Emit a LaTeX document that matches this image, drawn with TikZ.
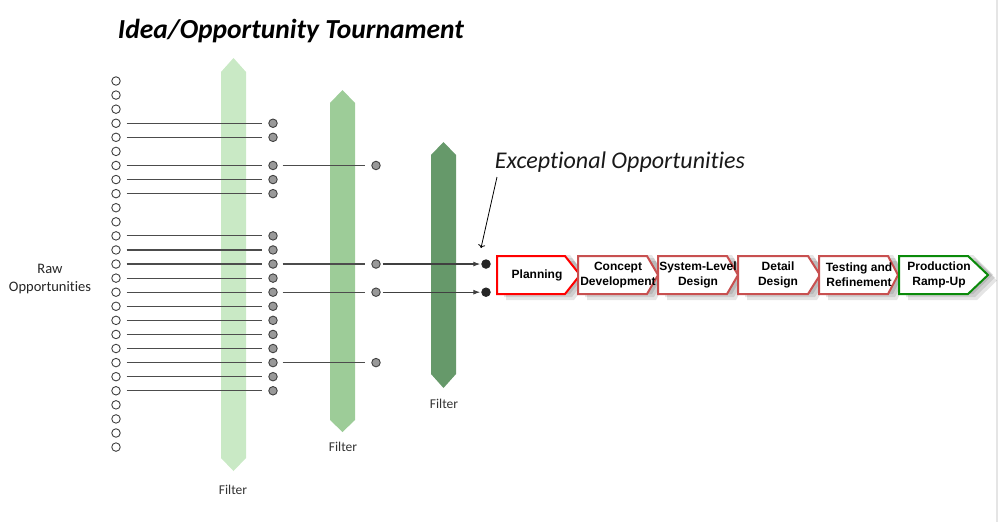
\documentclass[tikz,border=0pt]{standalone}
\usepackage{fontspec}
\setmainfont{Carlito}[Ligatures=CommonOff]
\newfontfamily\arialfont{Liberation Sans}
\usetikzlibrary{arrows.meta}

\definecolor{filterA}{HTML}{C9E9C5}
\definecolor{filterB}{HTML}{9DCC98}
\definecolor{filterC}{HTML}{66996A}
\definecolor{stagered}{HTML}{C85050}
\definecolor{stagegreen}{HTML}{0A8A0A}

\begin{document}
\begin{tikzpicture}[x=1pt, y=-1pt,
    rawdot/.style={circle, draw=black!75, fill=white, line width=0.9, minimum size=8.5pt, inner sep=0pt},
    keptdot/.style={rawdot, fill=black!40},
    bestdot/.style={rawdot, draw=black!85, fill=black!85},
    link/.style={line width=1.1, black!70, shorten <=6pt, shorten >=6pt},
    filterlabel/.style={font=\fontsize{13.5}{15}\selectfont, text=black!80},
    stagetext/.style={font=\arialfont\bfseries\fontsize{12}{15}\selectfont, align=center}]

  \useasboundingbox (0,0) rectangle (998,522);
  \fill[black!10] (995.5,0) rectangle (998,522);

  % filters
  \fill[filterA] (221,72) -- (233.5,58) -- (246,72) -- (246,458) -- (233.5,471) -- (221,458) -- cycle;
  \fill[filterB] (330,103) -- (342.5,90) -- (355,103) -- (355,420) -- (342.5,432) -- (330,420) -- cycle;
  \fill[filterC] (431,155) -- (443.5,142) -- (456,155) -- (456,374) -- (443.5,388) -- (431,374) -- cycle;
  \node[filterlabel] (filter-1) at (233,490) {Filter};
  \node[filterlabel] (filter-2) at (343,447) {Filter};
  \node[filterlabel] (filter-3) at (444,404) {Filter};

  % dots
  \foreach \i in {0,...,26}
  {
    \node [rawdot] (r-\i) at (116, 81+14.08*\i) {};
  }
  \foreach \i in {3,4,6,7,8,11,12,13,14,15,16,17,18,19,20,21,22}
  {
    \node [keptdot] (s-\i) at (273, 81+14.08*\i) {};
    \draw [link] (r-\i) -- (s-\i);
  }
  \foreach \i in {6,13,15,20}
  {
    \node [keptdot] (t-\i) at (376, 81+14.08*\i) {};
    \draw [link, shorten <=5pt] (s-\i) -- (t-\i);
  }
  \foreach \i in {13,15}
  {
    \node [bestdot] (e-\i) at (486, 81+14.08*\i) {};
    \draw [line width=1.1, black!75, shorten <=2pt, shorten >=1pt,
           -{Latex[length=7pt, width=5pt]}] (t-\i) -- (e-\i);
  }

  \node[font=\fontsize{14.5}{18}\selectfont, align=center, text=black!85] (raw) at (50,279) {Raw\\Opportunities};
  \node[font=\bfseries\itshape\fontsize{27.5}{30}\selectfont] (title) at (291,31) {Idea/Opportunity Tournament};
  \node[font=\itshape\fontsize{24}{26}\selectfont, text=black!90] (except) at (620,162) {Exceptional Opportunities};
  \coordinate (except-tail) at (497,177);
  \coordinate (except-head) at (481,248);
  \draw[line width=0.8, ->] (except-tail) -- (except-head);

  % stages: shadows first
  \foreach \x/\s/\t in {497/565/580, 578/647/658, 658/727/738, 738/808/820, 819/888/898, 899/968/988}
  {
    \foreach \k in {1,2,3}
      \fill[black, opacity=0.1] (\x+3+2*\k, 252+3*\k) -- (\s+3+2*\k, 252+3*\k) -- (\t+3+2*\k, 271.5+3*\k)
                                 -- (\s+3+2*\k, 291+3*\k) -- (\x+3+2*\k, 291+3*\k) -- cycle;
  }
  \foreach \x/\s/\t/\col/\name/\txt in {497/565/580/red/plan/Planning,
                                        578/647/658/stagered/concept/Concept\\Development,
                                        658/727/738/stagered/sysdesign/System-Level\\Design,
                                        738/808/820/stagered/detail/Detail\\Design,
                                        819/888/898/stagered/testing/Testing and\\Refinement,
                                        899/968/988/stagegreen/rampup/Production\\Ramp-Up}
  {
    \draw[line width=2, \col, fill=white, line join=miter]
      (\x,256) -- (\s,256) -- (\t,275) -- (\s,294) -- (\x,294) -- cycle;
    \node[stagetext] (\name) at (\x+40,275) {\txt};
  }

\end{tikzpicture}
\end{document}
